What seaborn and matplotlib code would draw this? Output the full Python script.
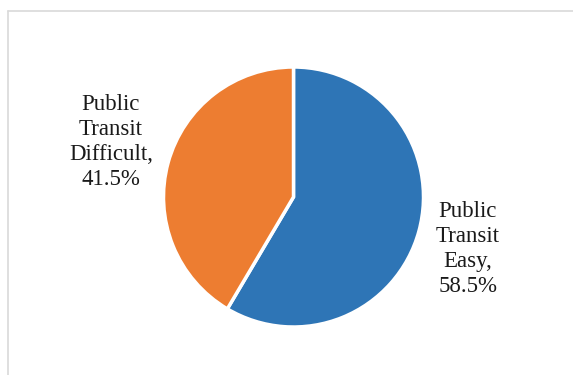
import matplotlib
matplotlib.use("Agg")
import matplotlib.pyplot as plt
from matplotlib.lines import Line2D
import seaborn as sns

# Share of respondents by perceived ease of public transit
categories = ["Public\nTransit\nEasy", "Public\nTransit\nDifficult"]
shares = [58.5, 41.5]
colors = ["#2E75B6", "#ED7D31"]

sns.set_theme(style="white")
plt.rcParams["font.family"] = ["Liberation Serif", "DejaVu Serif"]

W, H = 573, 375
fig = plt.figure(figsize=(W / 100, H / 100), dpi=100)
fig.patch.set_facecolor("white")

# thin frame along the left and top edges
fig.add_artist(Line2D([7.5 / W, 7.5 / W], [0, 1 - 10.5 / H], transform=fig.transFigure,
                      color="#d9d9d9", lw=1.2))
fig.add_artist(Line2D([7.5 / W, 1], [1 - 10.5 / H, 1 - 10.5 / H], transform=fig.transFigure,
                      color="#d9d9d9", lw=1.2))

cx, cy, r = 293.5, 197, 130
ax = fig.add_axes([(cx - r) / W, (H - cy - r) / H, 2 * r / W, 2 * r / H])
ax.pie(shares, colors=colors, startangle=90, counterclock=False,
       wedgeprops=dict(edgecolor="white", linewidth=2.5))
ax.set_xlim(-1, 1)
ax.set_ylim(-1, 1)
ax.set_aspect("equal")
ax.axis("off")

label_pos = [(1.342, -0.40), (-1.404, 0.423)]
for cat, val, (lx, ly) in zip(categories, shares, label_pos):
    ax.text(lx, ly, f"{cat},\n{val}%", ha="center", va="center",
            fontsize=16.5, color="#1a1a1a", linespacing=1.25, clip_on=False)

fig.savefig("out.png", dpi=100, facecolor="white")
